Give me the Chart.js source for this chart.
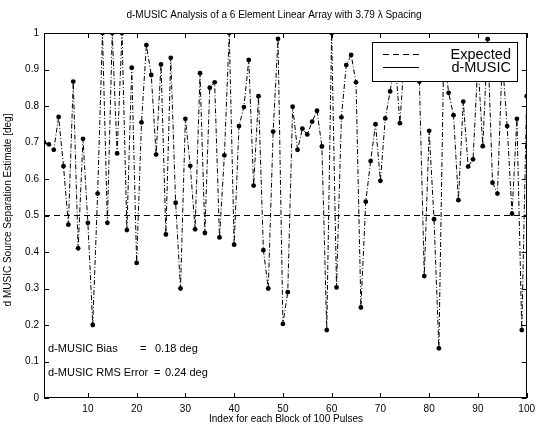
<!DOCTYPE html>
<html>
<head>
<meta charset="utf-8">
<script src="https://cdn.jsdelivr.net/npm/chart.js@4/dist/chart.umd.min.js"></script>
<style>
html,body{margin:0;padding:0;background:#fff;}
#c{display:block;}
</style>
</head>
<body>
<canvas id="c" width="540" height="425"></canvas>
<script>
// ---- text ----
const chartTitle = "d-MUSIC Analysis of a 6 Element Linear Array with 3.79 \u03bb Spacing";
const xAxisTitle = "Index for each Block of 100 Pulses";
const yAxisTitle = "d MUSIC Source Separation Estimate [deg]";
const legendLabels = ["Expected", "d-MUSIC"];
const statLabels = ["d-MUSIC Bias", "d-MUSIC RMS Error"];
const statValues = ["0.18 deg", "0.24 deg"];

// ---- data ----
const pulseIndex = [
  1,2,3,4,5,6,7,8,9,10,11,12,13,14,15,16,17,18,19,20,
  21,22,23,24,25,26,27,28,29,30,31,32,33,34,35,36,37,38,39,40,
  41,42,43,44,45,46,47,48,49,50,51,52,53,54,55,56,57,58,59,60,
  61,62,63,64,65,66,67,68,69,70,71,72,73,74,75,76,77,78,79,80,
  81,82,83,84,85,86,87,88,89,90,91,92,93,94,95,96,97,98,99,100
];
const dmusicEstimate = [
  0.70,0.695,0.68,0.77,0.635,0.475,0.867,0.41,0.71,0.48,
  0.20,0.56,1.0,0.48,1.0,0.67,1.0,0.46,0.905,0.37,
  0.755,0.967,0.885,0.667,0.914,0.448,0.932,0.535,0.30,0.765,
  0.636,0.462,0.89,0.452,0.85,0.865,0.44,0.665,1.0,0.42,
  0.745,0.797,0.926,0.582,0.827,0.405,0.30,0.73,0.984,0.203,
  0.29,0.798,0.68,0.738,0.722,0.757,0.787,0.689,0.186,1.0,
  0.303,0.769,0.912,0.94,0.865,0.248,0.538,0.649,0.75,0.595,
  0.766,0.84,0.93,0.753,0.95,0.92,0.96,0.867,0.334,0.732,
  0.49,0.136,0.95,0.836,0.775,0.542,0.812,0.634,0.654,0.92,
  0.69,0.983,0.59,0.56,0.93,0.745,0.505,0.765,0.186,0.827
];
const expectedX = [1, 100];
const expectedY = [0.5, 0.5];
const xTickValues = [10,20,30,40,50,60,70,80,90,100];
const yTickValues = [0,0.1,0.2,0.3,0.4,0.5,0.6,0.7,0.8,0.9,1];

const FONT = "'Liberation Sans', Arial, Helvetica, sans-serif";
Chart.defaults.font.family = FONT;
Chart.defaults.color = '#000';

const decor = {
  id: 'decor',
  afterDraw(chart) {
    const ctx = chart.ctx, a = chart.chartArea, xs = chart.scales.x, ys = chart.scales.y;
    ctx.save();
    ctx.strokeStyle = '#000';
    ctx.lineWidth = 1;
    ctx.setLineDash([]);
    const seg = (x1,y1,x2,y2)=>{ctx.beginPath();ctx.moveTo(x1,y1);ctx.lineTo(x2,y2);ctx.stroke();};
    // frame
    ctx.strokeRect(Math.round(a.left)+0.5, Math.round(a.top)+0.5, Math.round(a.right-a.left)-1, Math.round(a.bottom-a.top)-1);
    // inward ticks
    const tl = 5;
    xTickValues.forEach(v=>{
      const px = Math.round(xs.getPixelForValue(v))+0.5;
      seg(px, a.bottom, px, a.bottom-tl);
      seg(px, a.top, px, a.top+tl);
    });
    yTickValues.forEach(v=>{
      const py = Math.round(ys.getPixelForValue(v))+0.5;
      seg(a.left, py, a.left+tl, py);
      seg(a.right, py, a.right-tl, py);
    });
    // titles
    ctx.fillStyle = '#000';
    ctx.textBaseline = 'middle';
    ctx.textAlign = 'center';
    ctx.font = '10px ' + FONT;
    ctx.fillText(chartTitle, 274, 15);
    ctx.fillText(xAxisTitle, 286, 419);
    ctx.save();
    ctx.translate(8, 210);
    ctx.rotate(-Math.PI/2);
    ctx.fillText(yAxisTitle, 0, 0);
    ctx.restore();
    // statistics text
    ctx.textAlign = 'left';
    ctx.font = '11px ' + FONT;
    ctx.fillText(statLabels[0], 48, 349);
    ctx.fillText('=', 140, 349);
    ctx.fillText(statValues[0], 155, 349);
    ctx.fillText(statLabels[1], 48, 373);
    ctx.fillText('=', 154, 373);
    ctx.fillText(statValues[1], 165, 373);
    // legend
    const lx = 372, ly = 42, lw = 145, lh = 39;
    ctx.fillStyle = '#fff';
    ctx.fillRect(lx, ly, lw, lh);
    ctx.strokeRect(lx+0.5, ly+0.5, lw, lh);
    ctx.setLineDash([6,4]);
    seg(383, 54.5, 419, 54.5);
    ctx.setLineDash([]);
    seg(383, 67.5, 419, 67.5);
    ctx.fillStyle = '#000';
    ctx.textAlign = 'right';
    ctx.font = '14.5px ' + FONT;
    ctx.fillText(legendLabels[0], 511, 55);
    ctx.fillText(legendLabels[1], 511, 68);
    ctx.restore();
  }
};

new Chart(document.getElementById('c'), {
  type: 'line',
  data: {
    datasets: [
      {
        label: legendLabels[0],
        data: expectedX.map((x,i)=>({x, y: expectedY[i]})),
        borderColor: '#000',
        borderWidth: 1,
        borderDash: [6,4],
        pointRadius: 0,
        fill: false
      },
      {
        label: legendLabels[1],
        data: pulseIndex.map((x,i)=>({x, y: dmusicEstimate[i]})),
        borderColor: '#000',
        borderWidth: 1,
        borderDash: [5,2,1,2],
        pointRadius: 2.4,
        pointBackgroundColor: '#000',
        pointBorderColor: '#000',
        pointBorderWidth: 0,
        fill: false,
        tension: 0
      }
    ]
  },
  options: {
    responsive: false,
    animation: false,
    devicePixelRatio: 1,
    layout: { padding: { top: 33, right: 12, left: 0, bottom: 0 } },
    plugins: { legend: { display: false }, tooltip: { enabled: false }, title: { display: false } },
    scales: {
      x: {
        type: 'linear',
        min: 1, max: 100,
        afterBuildTicks: s => { s.ticks = xTickValues.map(v=>({value:v})); },
        afterFit: s => { s.height = 27; },
        grid: { display: false, drawTicks: false },
        border: { display: false },
        ticks: { color: '#000', font: { size: 10 }, padding: 5, maxRotation: 0, autoSkip: false }
      },
      y: {
        min: 0, max: 1,
        afterBuildTicks: s => { s.ticks = yTickValues.map(v=>({value:v})); },
        afterFit: s => { s.width = 44; },
        grid: { display: false, drawTicks: false },
        border: { display: false },
        ticks: {
          color: '#000', font: { size: 10 }, padding: 5, autoSkip: false,
          callback: v => (v === 0 ? '0' : (v === 1 ? '1' : v.toFixed(1)))
        }
      }
    }
  },
  plugins: [decor]
});
</script>
</body>
</html>
